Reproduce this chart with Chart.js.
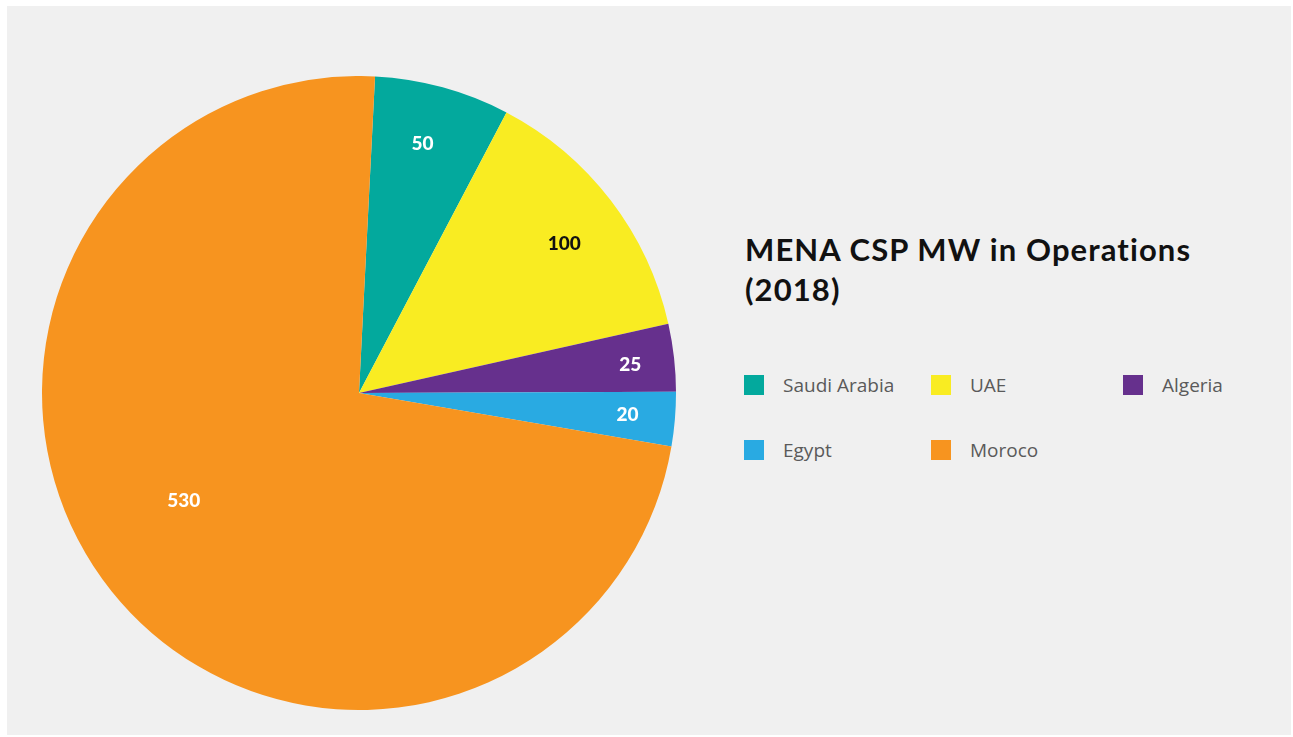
<!DOCTYPE html>
<html>
<head>
<meta charset="utf-8">
<script src="https://cdn.jsdelivr.net/npm/chart.js@4"></script>
<style>
  html, body { margin: 0; padding: 0; background: #ffffff; width: 1293px; height: 737px; overflow: hidden; }
  #panel { position: absolute; left: 7px; top: 6px; width: 1284px; height: 729px; background: #f0f0f0; }
  #pieBox { position: absolute; left: 42px; top: 76px; width: 634px; height: 634px; }
  #title { position: absolute; left: 745px; top: 229px; font-family: "Lato", sans-serif; font-weight: 700; font-size: 31px; line-height: 40px; color: #111; letter-spacing: 1.1px; }
  #legend { position: absolute; left: 744px; top: 375px; width: 520px; font-family: "Open Sans", sans-serif; font-size: 19px; color: #5a5a5a; }
  .item { position: absolute; height: 20px; display: flex; align-items: center; }
  .sw { width: 20px; height: 20px; margin-right: 19px; }
</style>
</head>
<body>
<div id="panel"></div>
<div id="pieBox"><canvas id="c"></canvas></div>
<div id="title">MENA CSP MW in Operations<br>(2018)</div>
<div id="legend"></div>
<script>
const categories = ["Saudi Arabia", "UAE", "Algeria", "Egypt", "Moroco"];
const values = [50, 100, 25, 20, 530];
const colors = ["#03a99d", "#f9ec22", "#66308d", "#29aae2", "#f7941f"];
const labelColors = ["#ffffff", "#111111", "#ffffff", "#ffffff", "#ffffff"];
const labelRadius = [0.81, 0.80, 0.86, 0.85, 0.65];
const labelAngleShift = [-1, 1.5, 0.5, 0, 7];

// legend
const legendPos = [[0,0],[187,0],[379,0],[0,65],[187,65]];
const lg = document.getElementById('legend');
categories.forEach((c, i) => {
  const d = document.createElement('div');
  d.className = 'item';
  d.style.left = legendPos[i][0] + 'px';
  d.style.top = legendPos[i][1] + 'px';
  d.innerHTML = '<div class="sw" style="background:' + colors[i] + '"></div><span>' + c + '</span>';
  lg.appendChild(d);
});

const valueLabels = {
  id: 'valueLabels',
  afterDatasetsDraw(chart) {
    const ctx = chart.ctx;
    const meta = chart.getDatasetMeta(0);
    ctx.save();
    ctx.font = '900 19px "Lato", sans-serif';
    ctx.textAlign = 'center';
    ctx.textBaseline = 'middle';
    meta.data.forEach((arc, i) => {
      const p = arc.getProps(['x','y','startAngle','endAngle','outerRadius'], true);
      const mid = (p.startAngle + p.endAngle) / 2 + labelAngleShift[i] * Math.PI / 180;
      const r = p.outerRadius * labelRadius[i];
      ctx.fillStyle = labelColors[i];
      ctx.fillText(String(values[i]), p.x + Math.cos(mid) * r, p.y + Math.sin(mid) * r);
    });
    ctx.restore();
  }
};

new Chart(document.getElementById('c'), {
  type: 'pie',
  data: {
    labels: categories,
    datasets: [{ data: values, backgroundColor: colors, borderWidth: 0, hoverOffset: 0 }]
  },
  options: {
    responsive: true,
    maintainAspectRatio: false,
    animation: false,
    rotation: 2.9,
    layout: { padding: 0 },
    plugins: { legend: { display: false }, tooltip: { enabled: false } }
  },
  plugins: [valueLabels]
});
</script>
</body>
</html>
